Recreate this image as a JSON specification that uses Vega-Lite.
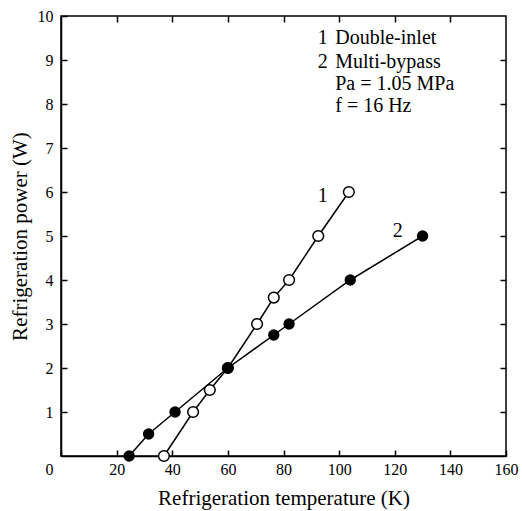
{
  "$schema": "https://vega.github.io/schema/vega-lite/v6.json",
  "width": 445,
  "height": 440,
  "autosize": "none",
  "padding": {"left": 61, "top": 16, "right": 16, "bottom": 55},
  "background": "white",
  "datasets": {
    "pts": [
      {"series": "1", "T": 37, "P": 0},
      {"series": "1", "T": 47.5, "P": 1},
      {"series": "1", "T": 53.5, "P": 1.5},
      {"series": "1", "T": 60, "P": 2},
      {"series": "1", "T": 70.5, "P": 3},
      {"series": "1", "T": 76.5, "P": 3.6},
      {"series": "1", "T": 82, "P": 4},
      {"series": "1", "T": 92.5, "P": 5},
      {"series": "1", "T": 103.5, "P": 6},
      {"series": "2", "T": 24.5, "P": 0},
      {"series": "2", "T": 31.5, "P": 0.5},
      {"series": "2", "T": 41, "P": 1},
      {"series": "2", "T": 60, "P": 2},
      {"series": "2", "T": 76.5, "P": 2.75},
      {"series": "2", "T": 82, "P": 3},
      {"series": "2", "T": 104, "P": 4},
      {"series": "2", "T": 130, "P": 5}
    ],
    "notes": [
      {"T": 92.3, "P": 9.5, "label": "1"},
      {"T": 98.6, "P": 9.5, "label": "Double-inlet"},
      {"T": 92.3, "P": 8.95, "label": "2"},
      {"T": 98.6, "P": 8.95, "label": "Multi-bypass"},
      {"T": 98.6, "P": 8.45, "label": "Pa = 1.05 MPa"},
      {"T": 98.6, "P": 7.95, "label": "f = 16 Hz"},
      {"T": 92.3, "P": 5.92, "label": "1"},
      {"T": 119.3, "P": 5.12, "label": "2"}
    ]
  },
  "resolve": {"axis": {"x": "independent", "y": "independent"}},
  "config": {
    "view": {"stroke": "black", "strokeWidth": 1.5},
    "font": "Liberation Serif",
    "axis": {
      "grid": false,
      "labelFlush": false,
      "domainColor": "black",
      "domainWidth": 1.5,
      "tickColor": "black",
      "tickWidth": 1.5,
      "labelColor": "black",
      "titleColor": "black",
      "labelFont": "Liberation Serif",
      "titleFont": "Liberation Serif",
      "labelFontSize": 16,
      "titleFontSize": 21,
      "titleFontWeight": "normal"
    }
  },
  "layer": [
    {
      "data": {"name": "pts"},
      "mark": {"type": "line", "color": "black", "strokeWidth": 1.5},
      "encoding": {
        "x": {
          "field": "T", "type": "quantitative",
          "scale": {"domain": [0, 160], "nice": false},
          "axis": {
            "orient": "bottom",
            "values": [0, 20, 40, 60, 80, 100, 120, 140, 160],
            "tickSize": -6,
            "labelPadding": 11,
            "labelOffset": {"condition": {"test": "datum.value === 0", "value": -12}, "value": 0},
            "title": "Refrigeration temperature (K)",
            "titlePadding": 10
          }
        },
        "y": {
          "field": "P", "type": "quantitative",
          "scale": {"domain": [0, 10], "nice": false},
          "axis": {
            "orient": "left",
            "values": [1, 2, 3, 4, 5, 6, 7, 8, 9, 10],
            "tickSize": -6,
            "labelPadding": 14,
            "title": "Refrigeration power (W)",
            "titlePadding": 7
          }
        },
        "detail": {"field": "series"}
      }
    },
    {
      "data": {"name": "pts"},
      "mark": {"type": "point", "filled": false, "fill": "white", "stroke": "black", "strokeWidth": 1.5, "size": 115, "opacity": 1, "clip": false},
      "transform": [{"filter": "datum.series === '1'"}],
      "encoding": {
        "x": {"field": "T", "type": "quantitative", "axis": {"orient": "top", "values": [20, 40, 60, 80, 100, 120, 140], "tickSize": -6, "labels": false, "domain": false, "title": null}},
        "y": {"field": "P", "type": "quantitative", "axis": {"orient": "right", "values": [1, 2, 3, 4, 5, 6, 7, 8, 9], "tickSize": -6, "labels": false, "domain": false, "title": null}}
      }
    },
    {
      "data": {"name": "pts"},
      "mark": {"type": "circle", "color": "black", "size": 130, "opacity": 1, "clip": false},
      "transform": [{"filter": "datum.series === '2'"}],
      "encoding": {
        "x": {"field": "T", "type": "quantitative", "axis": null},
        "y": {"field": "P", "type": "quantitative", "axis": null}
      }
    },
    {
      "data": {"name": "notes"},
      "mark": {"type": "text", "align": "left", "baseline": "middle", "fontSize": 20, "font": "Liberation Serif", "color": "black"},
      "encoding": {
        "x": {"field": "T", "type": "quantitative", "axis": null},
        "y": {"field": "P", "type": "quantitative", "axis": null},
        "text": {"field": "label"}
      }
    }
  ]
}
